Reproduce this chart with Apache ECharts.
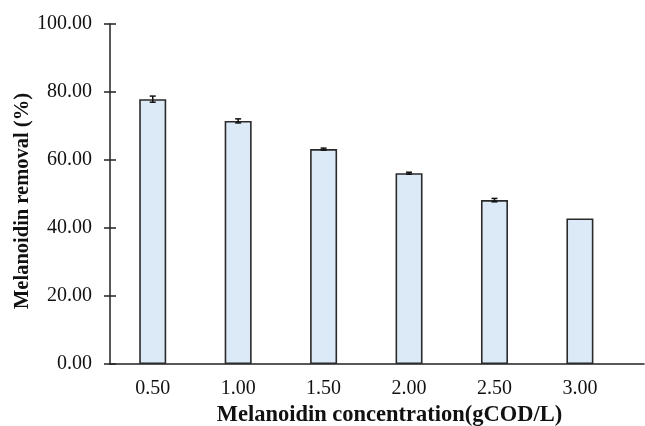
<!DOCTYPE html>
<html>
<head>
<meta charset="utf-8">
<script src="https://cdn.jsdelivr.net/npm/echarts@6/dist/echarts.min.js"></script>
<style>
  html, body { margin: 0; padding: 0; background: #fff; }
  #chart { width: 645px; height: 426px; }
</style>
</head>
<body>
<div id="chart"></div>
<script>
// Melanoidin concentration (gCOD/L) and removal efficiency (%)
const concentrations = [0.5, 1.0, 1.5, 2.0, 2.5, 3.0];
const removal = [77.9, 71.5, 63.2, 56.1, 48.2, 42.8];
const removalErr = [0.9, 0.6, 0.3, 0.3, 0.5, 0];
const yTicks = [0, 20, 40, 60, 80, 100];

const FONT = '"Liberation Serif", "DejaVu Serif", serif';
const INK = '#222';

const chart = echarts.init(document.getElementById('chart'), null, { renderer: 'canvas' });

const barData = concentrations.map((c, i) => [c, removal[i]]);
const errData = concentrations.map((c, i) => [c, removal[i] - removalErr[i], removal[i] + removalErr[i]]);

const option = {
  animation: false,
  backgroundColor: '#fff',
  grid: { left: 110, right: 1, top: 24, bottom: 62, containLabel: false, outerBoundsMode: 'none' },
  xAxis: {
    type: 'value',
    min: 0.25,
    max: 3.375,
    name: 'Melanoidin concentration(gCOD/L)',
    nameLocation: 'middle',
    nameGap: 40,
    nameMoveOverlap: false,
    nameTextStyle: { fontFamily: FONT, fontSize: 22.5, fontWeight: 'bold', color: '#111', padding: [0, 0, 0, 25] },
    axisLine: { show: true, onZero: false, lineStyle: { color: INK, width: 1.5 } },
    axisTick: { show: false },
    splitLine: { show: false },
    axisLabel: {
      customValues: concentrations,
      margin: 15,
      fontFamily: FONT,
      fontSize: 20,
      color: '#111',
      formatter: v => v.toFixed(2)
    }
  },
  yAxis: [
    {
      type: 'value',
      min: 0,
      max: 100,
      interval: 20,
      name: 'Melanoidin removal (%)',
      nameLocation: 'middle',
      nameGap: 77,
      nameRotate: 90,
      nameMoveOverlap: false,
      nameTextStyle: {
        fontFamily: FONT, fontSize: 20.5, fontWeight: 'bold', color: '#111',
        padding: [0, 14, 0, 0]
      },
      axisLine: { show: true, lineStyle: { color: INK, width: 1.5 } },
      axisTick: { show: true, length: 6, lineStyle: { color: INK, width: 1.5 } },
      splitLine: { show: false },
      axisLabel: {
        margin: 18,
        fontFamily: FONT,
        fontSize: 20,
        color: '#111',
        formatter: v => yTicks.includes(v) ? v.toFixed(2) : ''
      }
    },
    {
      // inward half of the crossing tick marks
      type: 'value',
      position: 'left',
      min: 0,
      max: 100,
      interval: 20,
      axisLine: { show: false },
      axisTick: { show: true, inside: true, length: 6, lineStyle: { color: INK, width: 1.5 } },
      axisLabel: { show: false },
      splitLine: { show: false }
    }
  ],
  series: [
    {
      type: 'bar',
      data: barData,
      barWidth: 27,
      itemStyle: { color: '#dce9f6', borderColor: '#2a2a2a', borderWidth: 1.6 }
    },
    {
      type: 'custom',
      data: errData,
      z: 10,
      renderItem: function (params, api) {
        const x = api.value(0);
        const lo = api.coord([x, api.value(1)]);
        const hi = api.coord([x, api.value(2)]);
        if (Math.abs(lo[1] - hi[1]) < 0.5) return null;
        const cap = 3;
        const style = { stroke: '#111', lineWidth: 1.5 };
        return {
          type: 'group',
          children: [
            { type: 'line', shape: { x1: lo[0], y1: lo[1], x2: hi[0], y2: hi[1] }, style },
            { type: 'line', shape: { x1: lo[0] - cap, y1: lo[1], x2: lo[0] + cap, y2: lo[1] }, style },
            { type: 'line', shape: { x1: hi[0] - cap, y1: hi[1], x2: hi[0] + cap, y2: hi[1] }, style }
          ]
        };
      }
    }
  ]
};

chart.setOption(option);
</script>
</body>
</html>
